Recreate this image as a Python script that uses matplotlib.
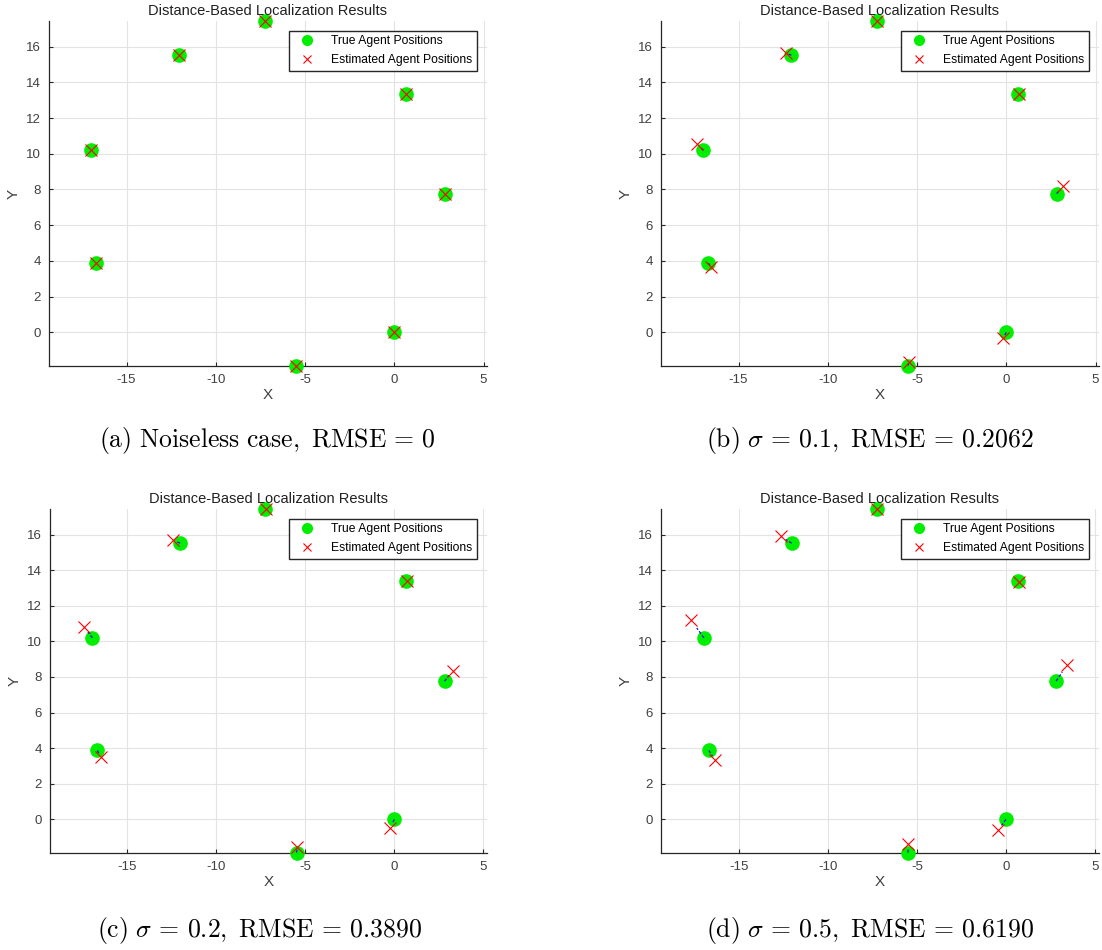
import matplotlib
matplotlib.use("Agg")
import matplotlib.pyplot as plt
import numpy as np

# ---- data ----
true_x = [0.0, -5.50, -7.26, 0.67, 2.82, -12.04, -16.97, -16.69]
true_y = [0.0, -1.87, 17.44, 13.37, 7.77, 15.52, 10.20, 3.87]

est_a_x = [0.0, -5.50, -7.26, 0.67, 2.82, -12.04, -16.97, -16.69]
est_a_y = [0.0, -1.87, 17.44, 13.37, 7.77, 15.52, 10.20, 3.87]

est_b_x = [-0.17, -5.46, -7.25, 0.71, 3.20, -12.32, -17.34, -16.53]
est_b_y = [-0.34, -1.64, 17.45, 13.35, 8.17, 15.64, 10.56, 3.63]

est_c_x = [-0.24, -5.45, -7.23, 0.69, 3.28, -12.45, -17.43, -16.50]
est_c_y = [-0.47, -1.55, 17.45, 13.38, 8.36, 15.70, 10.80, 3.50]

est_d_x = [-0.45, -5.48, -7.27, 0.71, 3.45, -12.65, -17.70, -16.34]
est_d_y = [-0.62, -1.40, 17.45, 13.36, 8.70, 15.90, 11.21, 3.31]

captions = [
    r"$\mathrm{(a)\ Noiseless\ case,\ RMSE}\,=\,0$",
    r"$\mathrm{(b)}\ \sigma\,=\,0.1,\ \mathrm{RMSE}\,=\,0.2062$",
    r"$\mathrm{(c)}\ \sigma\,=\,0.2,\ \mathrm{RMSE}\,=\,0.3890$",
    r"$\mathrm{(d)}\ \sigma\,=\,0.5,\ \mathrm{RMSE}\,=\,0.6190$",
]
title_text = "Distance-Based Localization Results"
xticks = [-15, -10, -5, 0, 5]
yticks = [0, 2, 4, 6, 8, 10, 12, 14, 16]

# ---- style ----
plt.rcParams["mathtext.fontset"] = "cm"
plt.rcParams["axes.unicode_minus"] = False
W, H = 1102, 950
fig = plt.figure(figsize=(W / 100, H / 100), dpi=100)
axcol = "#262626"

# axes boxes in pixels: left, top, right, bottom
boxes = [(49, 21, 487, 366), (661, 21, 1099, 366),
         (50, 509, 487, 853), (661, 509, 1099, 853)]
caps_pos = [(267, 441), (870, 441), (260, 930), (870, 930)]
ests = [(est_a_x, est_a_y), (est_b_x, est_b_y), (est_c_x, est_c_y), (est_d_x, est_d_y)]

tx = np.array(true_x)
ty = np.array(true_y)
ylo, yhi = -1.89, 17.44

for (l, t, r, b), (ex, ey), cap, (cx, cy) in zip(boxes, ests, captions, caps_pos):
    ax = fig.add_axes([l / W, 1 - b / H, (r - l) / W, (b - t) / H])
    ex = np.array(ex)
    ey = np.array(ey)
    # equal aspect, tight in y
    yr = yhi - ylo
    xr = yr * (r - l) / (b - t)
    xc = (tx.min() + tx.max()) / 2
    ax.set_xlim(xc - xr / 2, xc + xr / 2)
    ax.set_ylim(ylo, yhi)

    ax.plot(tx, ty, "o", color="#00ee00", markersize=9.5, linestyle="none",
            label="True Agent Positions", clip_on=False, zorder=3)
    frac = 0.55
    for x0, y0, x1, y1 in zip(tx, ty, ex, ey):
        ax.plot([x0, x0 + frac * (x1 - x0)], [y0, y0 + frac * (y1 - y0)],
                color="#1010ff", lw=0.9, linestyle=(0, (2.5, 1.5)), zorder=4)
    ax.plot(ex, ey, "x", color="red", markersize=8, markeredgewidth=0.8,
            linestyle="none", label="Estimated Agent Positions", clip_on=False, zorder=5)

    ax.set_xticks(xticks)
    ax.set_yticks(yticks)
    ax.grid(True, color="#e3e3e3", lw=0.8)
    ax.set_axisbelow(True)
    for s in ["top", "right"]:
        ax.spines[s].set_visible(False)
    for s in ["left", "bottom"]:
        ax.spines[s].set_color(axcol)
        ax.spines[s].set_linewidth(0.9)
    ax.tick_params(direction="in", length=3, width=0.8, color=axcol,
                   labelsize=9.5, labelcolor="#404040", pad=6)
    for lab in ax.get_xticklabels() + ax.get_yticklabels():
        lab.set_family("Liberation Sans")
    ax.set_xlabel("X", fontsize=11, family="Liberation Sans", color="#404040", labelpad=1)
    ax.set_ylabel("Y", fontsize=11, family="Liberation Sans", color="#404040", labelpad=4)
    ax.set_title(title_text, fontsize=10.5, family="Liberation Sans", color="#202020", pad=4)

    leg = ax.legend(loc="upper right", bbox_to_anchor=(0.977, 0.972),
                    prop={"family": "Liberation Sans", "size": 8.7},
                    frameon=True, fancybox=False, edgecolor="#262626",
                    borderpad=0.4, handlelength=2.2, handletextpad=0.9,
                    labelspacing=0.55, borderaxespad=0)
    leg.get_frame().set_linewidth(1.0)
    leg.get_frame().set_alpha(1)
    for h in leg.legend_handles:
        h.set_markersize(7 if h.get_marker() == "o" else 6)

    fig.text(cx / W, 1 - cy / H, cap, ha="center", va="center", fontsize=18.5)

fig.savefig("out.png", dpi=100)
